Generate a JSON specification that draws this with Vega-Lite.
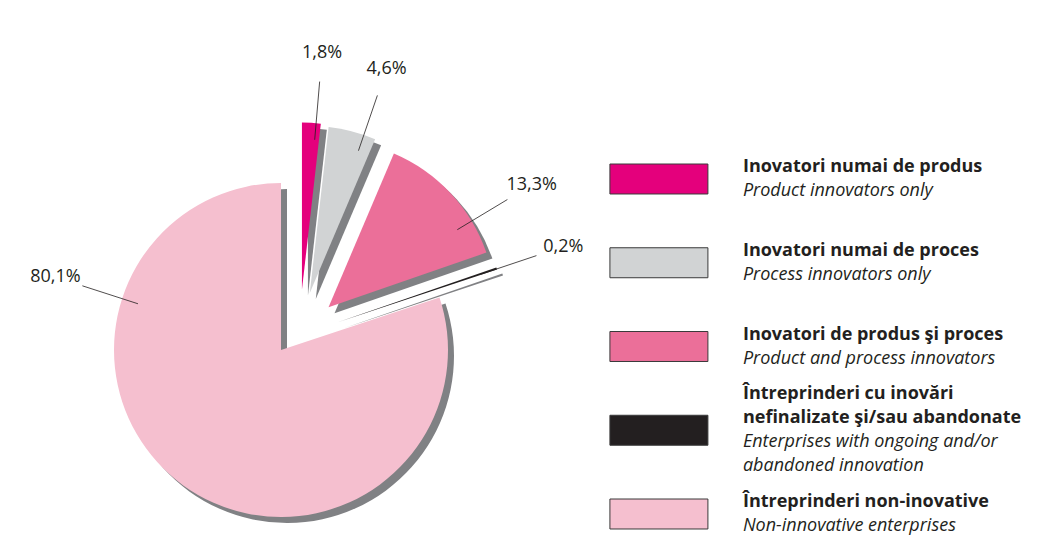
{
  "$schema": "https://vega.github.io/schema/vega-lite/v6.json",
  "width": 1039,
  "height": 537,
  "autosize": "none",
  "padding": 0,
  "background": "white",
  "config": {"view": {"stroke": null}, "font": "Open Sans", "axis": {"disable": true}},
  "data": {
    "values": [
      {"order": 1, "pct": 1.8, "ro": "Inovatori numai de produs", "en": "Product innovators only"},
      {"order": 2, "pct": 4.6, "ro": "Inovatori numai de proces", "en": "Process innovators only"},
      {"order": 3, "pct": 13.3, "ro": "Inovatori de produs şi proces", "en": "Product and process innovators"},
      {"order": 4, "pct": 0.2, "ro": "Întreprinderi cu inovări\nnefinalizate şi/sau abandonate", "en": "Enterprises with ongoing and/or\nabandoned innovation"},
      {"order": 5, "pct": 80.1, "ro": "Întreprinderi non-inovative", "en": "Non-innovative enterprises"}
    ]
  },
  "transform": [
    {"window": [{"op": "sum", "field": "pct", "as": "a1"}], "sort": [{"field": "order"}], "frame": [null, 0]},
    {"calculate": "datum.a1 - datum.pct", "as": "a0"},
    {"calculate": "(datum.a0 + 0.75 * datum.pct) * PI / 50", "as": "la"},
    {"calculate": "(17 + 0.66 * (datum.a0 + datum.pct / 2) * 3.6) * PI / 180", "as": "dir"},
    {"calculate": "datum.pct < 50 ? 0.383 : 0", "as": "ex"},
    {"calculate": "datum.ex * sin(datum.dir)", "as": "cx"},
    {"calculate": "datum.ex * cos(datum.dir)", "as": "cy"},
    {"calculate": "datum.cx + 0.9 * sin(datum.la)", "as": "lx1"},
    {"calculate": "datum.cy + 0.9 * cos(datum.la)", "as": "ly1"},
    {"calculate": "datum.cx + 1.25 * sin(datum.la)", "as": "lx2"},
    {"calculate": "datum.cy + 1.25 * cos(datum.la)", "as": "ly2"},
    {"calculate": "datum.cx + 1.42 * sin(datum.la)", "as": "tx"},
    {"calculate": "datum.cy + 1.42 * cos(datum.la)", "as": "ty"},
    {"calculate": "replace(format(datum.pct, '.1f'), '.', ',') + '%'", "as": "lab"},
    {"calculate": "length(split(datum.ro, '\\n'))", "as": "nb"},
    {"calculate": "datum.order - (datum.nb - 1) * 24 / 83.75", "as": "yb"}
  ],
  "layer": [
    {
      "layer": [
        {
          "mark": {"type": "arc", "radius": 167, "color": "#808184", "xOffset": 6, "yOffset": 6},
          "encoding": {
            "x": {"field": "cx", "type": "quantitative", "scale": {"domain": [-1.6826, 4.5389], "nice": false, "zero": false}, "axis": null},
            "y": {"field": "cy", "type": "quantitative", "scale": {"domain": [-1.1198, 2.0958], "nice": false, "zero": false}, "axis": null},
            "theta": {"field": "a0", "type": "quantitative", "scale": {"domain": [0, 100], "nice": false}},
            "theta2": {"field": "a1"}
          }
        },
        {
          "mark": {"type": "arc", "radius": 167},
          "encoding": {
            "x": {"field": "cx", "type": "quantitative", "scale": {"domain": [-1.6826, 4.5389], "nice": false, "zero": false}, "axis": null},
            "y": {"field": "cy", "type": "quantitative", "scale": {"domain": [-1.1198, 2.0958], "nice": false, "zero": false}, "axis": null},
            "theta": {"field": "a0", "type": "quantitative", "scale": {"domain": [0, 100], "nice": false}},
            "theta2": {"field": "a1"},
            "color": {"field": "order", "type": "nominal", "legend": null, "scale": {"domain": [1, 2, 3, 4, 5], "range": ["#E4007C", "#D1D3D4", "#EB6F99", "#231F20", "#F5BFCF"]}}
          }
        },
        {
          "mark": {"type": "rule", "color": "#231F20", "strokeWidth": 0.8},
          "encoding": {
            "x": {"field": "lx1", "type": "quantitative", "scale": {"domain": [-1.6826, 4.5389], "nice": false, "zero": false}, "axis": null},
            "y": {"field": "ly1", "type": "quantitative", "scale": {"domain": [-1.1198, 2.0958], "nice": false, "zero": false}, "axis": null},
            "x2": {"field": "lx2"},
            "y2": {"field": "ly2"}
          }
        },
        {
          "mark": {"type": "text", "align": "center", "baseline": "middle", "fontSize": 18, "color": "#231F20"},
          "encoding": {
            "x": {"field": "tx", "type": "quantitative", "scale": {"domain": [-1.6826, 4.5389], "nice": false, "zero": false}, "axis": null},
            "y": {"field": "ty", "type": "quantitative", "scale": {"domain": [-1.1198, 2.0958], "nice": false, "zero": false}, "axis": null},
            "text": {"field": "lab"}
          }
        }
      ]
    },
    {
      "layer": [
        {
          "mark": {"type": "point", "shape": "M-1,-0.306L1,-0.306L1,0.306L-1,0.306Z", "size": 9604, "filled": true, "stroke": "#3a3a3a", "strokeWidth": 1, "opacity": 1},
          "encoding": {
            "x": {"datum": 2.263, "type": "quantitative"},
            "y": {"field": "order", "type": "quantitative", "scale": {"domain": [1, 5], "range": [179, 514], "nice": false, "zero": false}, "axis": null},
            "fill": {"field": "order", "type": "nominal", "legend": null, "scale": {"domain": [1, 2, 3, 4, 5], "range": ["#E4007C", "#D1D3D4", "#EB6F99", "#231F20", "#F5BFCF"]}}
          }
        },
        {
          "mark": {"type": "text", "align": "left", "baseline": "alphabetic", "dy": -7, "fontSize": 18, "fontWeight": "bold", "lineBreak": "\n", "lineHeight": 24, "color": "#231F20"},
          "encoding": {
            "x": {"datum": 2.766, "type": "quantitative"},
            "y": {"field": "yb", "type": "quantitative", "scale": {"domain": [1, 5], "range": [179, 514], "nice": false, "zero": false}, "axis": null},
            "text": {"field": "ro"}
          }
        },
        {
          "mark": {"type": "text", "align": "left", "baseline": "alphabetic", "dy": 17, "fontSize": 18, "fontStyle": "italic", "lineBreak": "\n", "lineHeight": 24, "color": "#231F20"},
          "encoding": {
            "x": {"datum": 2.766, "type": "quantitative"},
            "y": {"field": "order", "type": "quantitative", "scale": {"domain": [1, 5], "range": [179, 514], "nice": false, "zero": false}, "axis": null},
            "text": {"field": "en"}
          }
        }
      ]
    }
  ],
  "resolve": {"scale": {"y": "independent"}}
}
